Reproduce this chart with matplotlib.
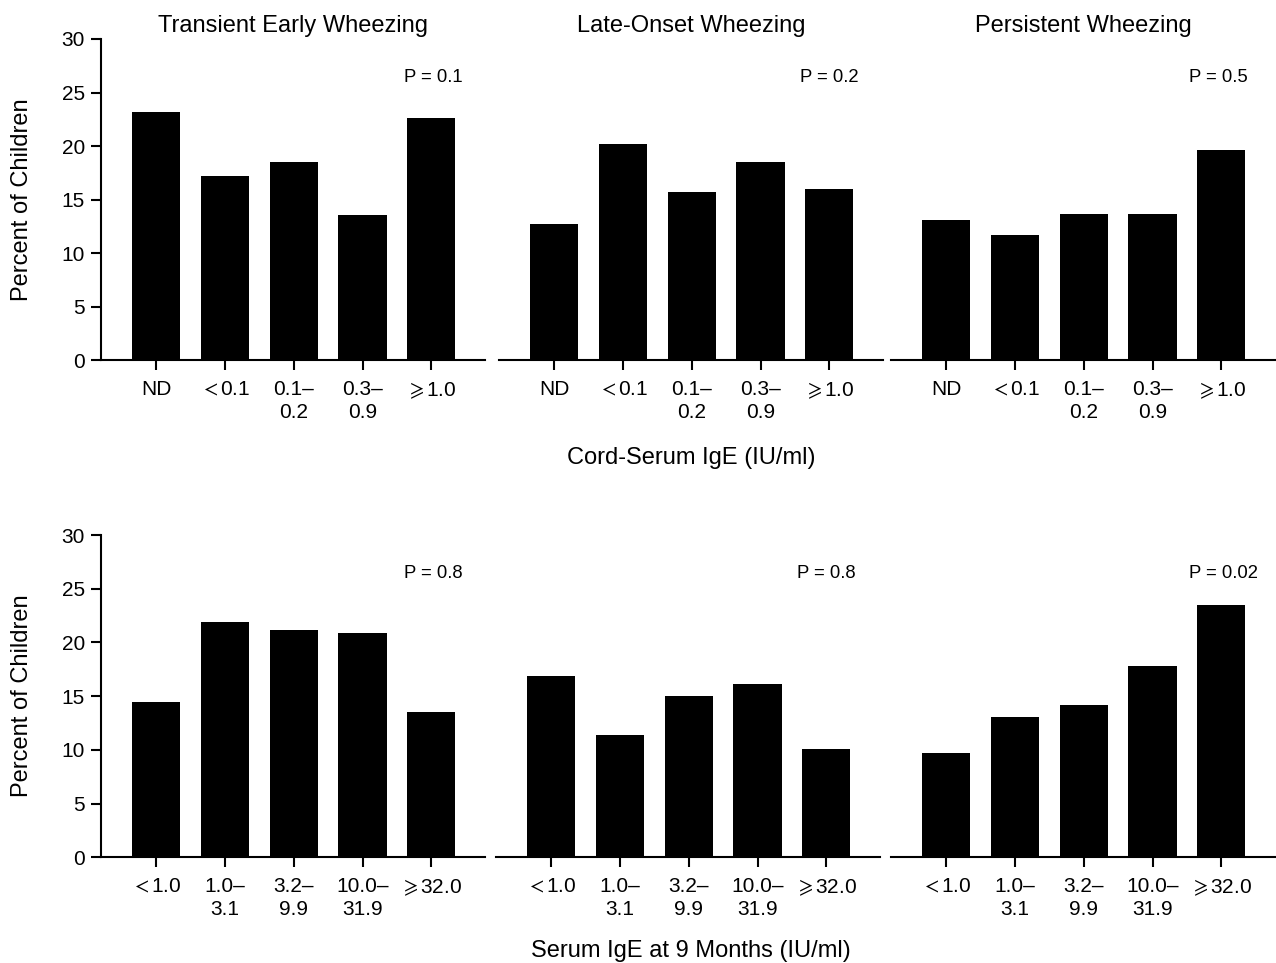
import numpy as np
import matplotlib
matplotlib.use("Agg")
import matplotlib.pyplot as plt

plt.rcParams['font.family'] = ['Liberation Sans', 'DejaVu Sans']
plt.rcParams['mathtext.fontset'] = 'stix'

# categories
cord_labels = ["ND", r"$<$0.1", "0.1–\n0.2", "0.3–\n0.9", r"$\geqslant$1.0"]
serum_labels = [r"$<$1.0", "1.0–\n3.1", "3.2–\n9.9", "10.0–\n31.9", r"$\geqslant$32.0"]
titles = ["Transient Early Wheezing", "Late-Onset Wheezing", "Persistent Wheezing"]

# percent of children, cord-serum IgE
cord_transient = [23.2, 17.2, 18.5, 13.6, 22.6]
cord_late = [12.7, 20.2, 15.7, 18.5, 16.0]
cord_persistent = [13.1, 11.7, 13.7, 13.7, 19.6]
cord_p = ["P = 0.1", "P = 0.2", "P = 0.5"]

# percent of children, serum IgE at 9 months
serum_transient = [14.5, 21.9, 21.2, 20.9, 13.5]
serum_late = [16.9, 11.4, 15.0, 16.1, 10.1]
serum_persistent = [9.7, 13.1, 14.2, 17.8, 23.5]
serum_p = ["P = 0.8", "P = 0.8", "P = 0.02"]

W, H = 1276, 963
fig = plt.figure(figsize=(W / 100, H / 100), dpi=100)

rows = [
    (cord_labels, [cord_transient, cord_late, cord_persistent], cord_p,
     [101, 499, 891], 39, 360.3, "Cord-Serum IgE (IU/ml)", 458),
    (serum_labels, [serum_transient, serum_late, serum_persistent], serum_p,
     [101, 496, 891], 535, 857.3, "Serum IgE at 9 Months (IU/ml)", 951),
]
p_xpos = [0.788, 0.785, 0.775]

for r, (labels, series, pvals, lefts, top, bot, xlab, xlab_y) in enumerate(rows):
    x = np.arange(len(labels))
    for i in range(3):
        ax = fig.add_axes([lefts[i] / W, 1 - bot / H, 384 / W, (bot - top) / H])
        ax.bar(x, series[i], width=0.7, color="black")
        ax.set_xlim(-0.8, 4.78)
        ax.set_ylim(0, 30)
        ax.set_xticks(x)
        ax.set_xticklabels(labels, fontsize=15, linespacing=1.25)
        for s in ["top", "right"]:
            ax.spines[s].set_visible(False)
        ax.spines["bottom"].set_linewidth(1.5)
        ax.spines["left"].set_linewidth(1.5)
        ax.tick_params(direction="out", length=7.5, width=1.5, pad=4)
        ax.tick_params(axis="x", pad=7)
        if i == 0:
            ax.set_yticks([0, 5, 10, 15, 20, 25, 30])
            ax.tick_params(axis="y", labelsize=15)
            fig.text(22 / W, 1 - (top + bot) / 2 / H, "Percent of Children",
                     rotation=90, ha="center", va="center", fontsize=17)
        else:
            ax.spines["left"].set_visible(False)
            ax.set_yticks([])
        if r == 0:
            ax.set_title(titles[i], fontsize=17, pad=5)
        ax.text(p_xpos[i], 26.45, pvals[i], transform=ax.get_yaxis_transform(),
                ha="left", va="center", fontsize=13.3)
    fig.text(691 / W, 1 - xlab_y / H, xlab, ha="center", va="center", fontsize=17)

plt.savefig("out.png", dpi=100)
